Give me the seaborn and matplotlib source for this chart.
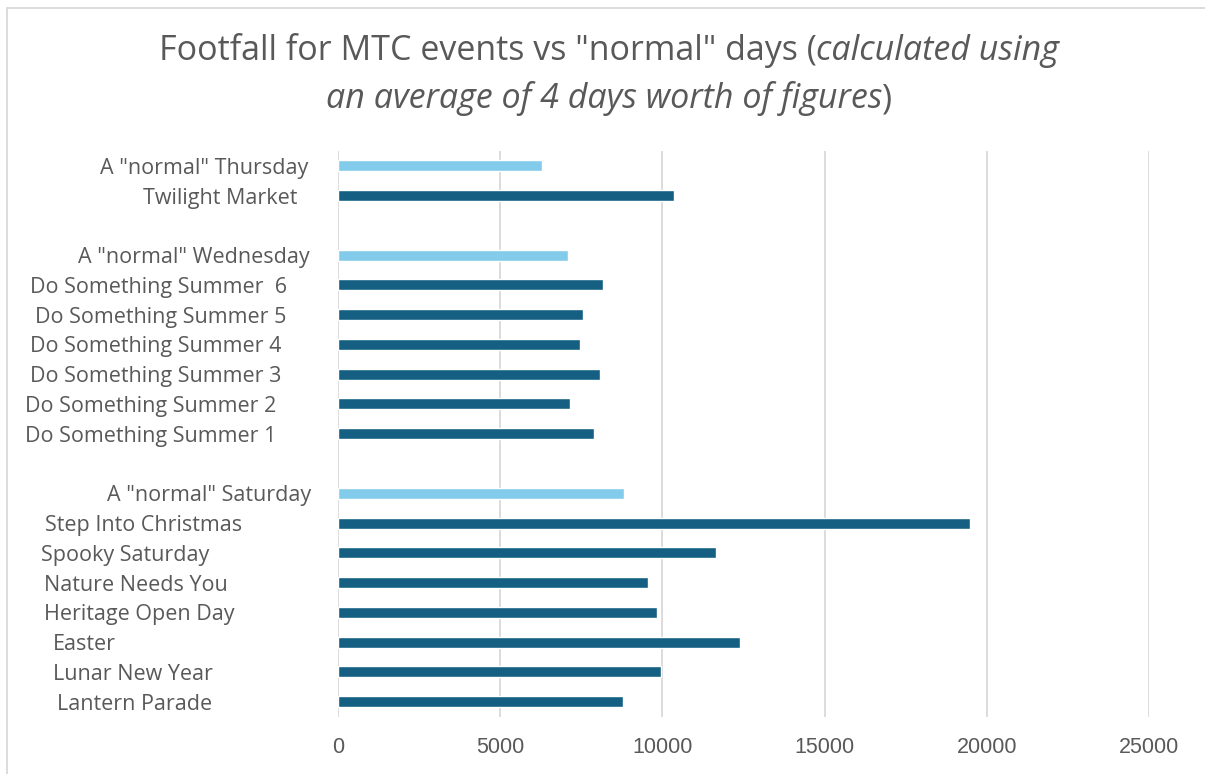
import matplotlib.pyplot as plt
import matplotlib.transforms as mtransforms
from matplotlib.lines import Line2D
import numpy as np
import pandas as pd
import seaborn as sns

# categories top to bottom, blanks are the gaps between groups
labels = ['A "normal" Thursday', 'Twilight Market', ' ',
          'A "normal" Wednesday', 'Do Something Summer  6', 'Do Something Summer 5',
          'Do Something Summer 4', 'Do Something Summer 3', 'Do Something Summer 2',
          'Do Something Summer 1', '  ',
          'A "normal" Saturday', 'Step Into Christmas', 'Spooky Saturday',
          'Nature Needs You', 'Heritage Open Day', 'Easter', 'Lunar New Year',
          'Lantern Parade']
values = [6290, 10350, np.nan,
          7100, 8160, 7540, 7460, 8080, 7140, 7890, np.nan,
          8830, 19490, 11650, 9550, 9830, 12400, 9950, 8800]
kinds = ['normal', 'event', None,
         'normal', 'event', 'event', 'event', 'event', 'event', 'event', None,
         'normal', 'event', 'event', 'event', 'event', 'event', 'event', 'event']
x_ticks = [0, 5000, 10000, 15000, 20000, 25000]

# left edge of each category label in pixels (labels were padded in the source)
label_left_px = [100, 143, 0, 78, 30, 35, 30, 30, 25, 25, 0,
                 107, 45, 41, 44, 44, 53, 53, 57]

GREY = '#595959'
GRID = '#d9d9d9'
W, H = 1205, 774

sns.set_style("white")
plt.rcParams['font.family'] = ['Open Sans', 'DejaVu Sans']

df = pd.DataFrame({'label': labels, 'footfall': values, 'kind': kinds}).dropna()

fig = plt.figure(figsize=(W / 100, H / 100), dpi=100)
ax = fig.add_axes([338 / W, 1 - 716.5 / H, (1149 - 338) / W, (716.5 - 151) / H])

sns.barplot(data=df, x='footfall', y='label', hue='kind', order=labels,
            palette={'event': '#156082', 'normal': '#83CBEB'}, dodge=False,
            width=0.37, saturation=1, legend=False, ax=ax)

ax.set_xlim(0, 25000)
ax.set_ylim(18.5, -0.5)
ax.set_xticks(x_ticks)
ax.set_xticklabels([str(t) for t in x_ticks], family='Liberation Sans',
                   fontsize=15.5, color=GREY)
ax.tick_params(axis='x', length=0, pad=15)
ax.tick_params(axis='y', left=False, labelleft=False)
ax.set_xlabel('')
ax.set_ylabel('')
ax.grid(axis='x', color=GRID, linewidth=1.3)
ax.set_axisbelow(True)
for s in ax.spines.values():
    s.set_visible(False)

# category labels
trans = mtransforms.blended_transform_factory(fig.transFigure, ax.transData)
for i, (lab, px) in enumerate(zip(labels, label_left_px)):
    if lab.strip():
        ax.text(px / W, i, lab, transform=trans, ha='left', va='center_baseline',
                fontsize=15.5, color=GREY, clip_on=False)

# title with mixed upright / italic runs
renderer = fig.canvas.get_renderer()


def draw_line(runs, y_px, size, center_px=609):
    texts = [fig.text(0, 1 - y_px / H, s, fontsize=size, style=st, color=GREY,
                      ha='left', va='baseline') for s, st in runs]
    widths = [t.get_window_extent(renderer).width for t in texts]
    x = center_px - sum(widths) / 2
    for t, w in zip(texts, widths):
        t.set_x(x / W)
        x += w


draw_line([('Footfall for MTC events vs "normal" days (', 'normal'),
           ('calculated using', 'italic')], 60, 24.5)
draw_line([('an average of 4 days worth of figures', 'italic'),
           (')', 'normal')], 108, 24.5)

# chart border
fig.add_artist(Line2D([7.5 / W, 7.5 / W], [0, 1 - 7.5 / H], color=GRID, lw=1.3))
fig.add_artist(Line2D([7.5 / W, 1], [1 - 7.5 / H, 1 - 7.5 / H], color=GRID, lw=1.3))

fig.savefig('out.png', dpi=100)
plt.close(fig)
